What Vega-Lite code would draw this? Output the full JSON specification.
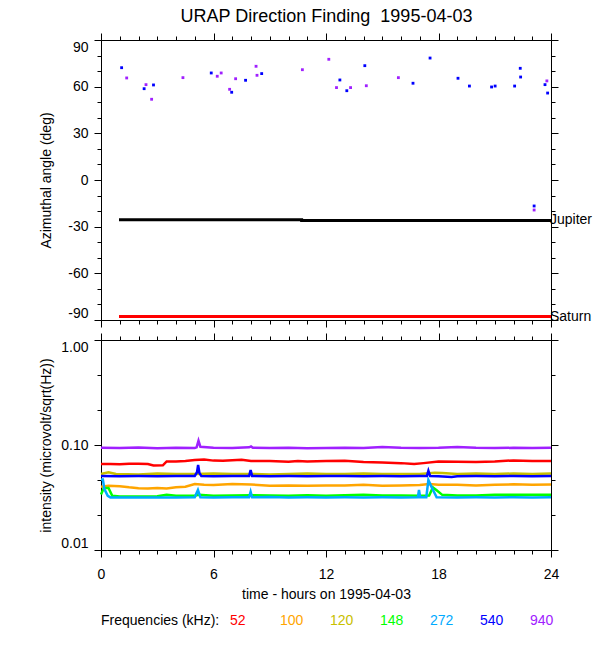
{
  "$schema": "https://vega.github.io/schema/vega-lite/v6.json",
  "title": {"text": "URAP Direction Finding \u00a01995-04-03", "fontSize": 18, "fontWeight": "normal", "font": "Liberation Sans", "color": "black", "anchor": "middle", "offset": 6, "dx": 11},
  "padding": {"left": 38, "top": 8, "right": 5, "bottom": 5},
  "background": "white",
  "bounds": "flush",
  "spacing": 20,
  "datasets": {
    "pts": [
      {"h": 1.1, "az": 72.2, "f": "540"}, {"h": 2.3, "az": 58.7, "f": "540"}, {"h": 2.8, "az": 61.1, "f": "540"},
      {"h": 5.88, "az": 68.8, "f": "540"}, {"h": 6.97, "az": 56.4, "f": "540"}, {"h": 7.71, "az": 64.1, "f": "540"},
      {"h": 8.57, "az": 68.4, "f": "540"}, {"h": 12.74, "az": 64.3, "f": "540"}, {"h": 13.11, "az": 57.4, "f": "540"},
      {"h": 14.07, "az": 73.5, "f": "540"}, {"h": 16.64, "az": 62.2, "f": "540"}, {"h": 17.55, "az": 78.4, "f": "540"},
      {"h": 19.04, "az": 65.4, "f": "540"}, {"h": 19.65, "az": 60.4, "f": "540"}, {"h": 20.83, "az": 59.8, "f": "540"},
      {"h": 21.02, "az": 60.4, "f": "540"}, {"h": 22.06, "az": 60.4, "f": "540"}, {"h": 22.36, "az": 71.8, "f": "540"},
      {"h": 22.38, "az": 66.2, "f": "540"}, {"h": 23.68, "az": 61.3, "f": "540"}, {"h": 23.82, "az": 55.9, "f": "540"},
      {"h": 23.1, "az": -16.7, "f": "540"},
      {"h": 1.37, "az": 65.6, "f": "940"}, {"h": 2.4, "az": 61.3, "f": "940"}, {"h": 2.7, "az": 51.9, "f": "940"},
      {"h": 4.37, "az": 65.8, "f": "940"}, {"h": 6.2, "az": 66.7, "f": "940"}, {"h": 6.41, "az": 68.8, "f": "940"},
      {"h": 7.18, "az": 65.1, "f": "940"}, {"h": 6.86, "az": 58.3, "f": "940"}, {"h": 8.27, "az": 73.1, "f": "940"},
      {"h": 8.32, "az": 67.3, "f": "940"}, {"h": 10.74, "az": 70.9, "f": "940"}, {"h": 12.15, "az": 77.6, "f": "940"},
      {"h": 12.56, "az": 59.4, "f": "940"}, {"h": 13.31, "az": 59.4, "f": "940"}, {"h": 14.15, "az": 60.6, "f": "940"},
      {"h": 15.86, "az": 65.8, "f": "940"}, {"h": 23.78, "az": 63.7, "f": "940"}, {"h": 23.1, "az": -19.3, "f": "940"}
    ],
    "planets": [
      {"planet": "Jupiter", "i": 1, "h": 0.96, "az": -25.5},
      {"planet": "Jupiter", "i": 2, "h": 10.7, "az": -25.5},
      {"planet": "Jupiter", "i": 3, "h": 10.7, "az": -26.1},
      {"planet": "Jupiter", "i": 4, "h": 24, "az": -26.1},
      {"planet": "Saturn", "i": 1, "h": 0.96, "az": -87.8},
      {"planet": "Saturn", "i": 2, "h": 24, "az": -87.8}
    ],
    "names": [
      {"name": "Jupiter", "h": 24, "az": -25.9},
      {"name": "Saturn", "h": 24, "az": -87.8}
    ],
    "ser": [
      {"f": "52", "h": 0, "v": 0.0659}, {"f": "52", "h": 0.5, "v": 0.066}, {"f": "52", "h": 1, "v": 0.0655}, {"f": "52", "h": 1.5, "v": 0.0662},
      {"f": "52", "h": 2, "v": 0.0664}, {"f": "52", "h": 2.5, "v": 0.066}, {"f": "52", "h": 2.8, "v": 0.0638}, {"f": "52", "h": 3.3, "v": 0.064},
      {"f": "52", "h": 3.5, "v": 0.0698}, {"f": "52", "h": 4, "v": 0.0695}, {"f": "52", "h": 4.5, "v": 0.0703}, {"f": "52", "h": 5, "v": 0.0718},
      {"f": "52", "h": 5.5, "v": 0.0728}, {"f": "52", "h": 6, "v": 0.071}, {"f": "52", "h": 6.5, "v": 0.0708}, {"f": "52", "h": 7, "v": 0.0715},
      {"f": "52", "h": 7.5, "v": 0.0725}, {"f": "52", "h": 8, "v": 0.0705}, {"f": "52", "h": 9, "v": 0.0703}, {"f": "52", "h": 10, "v": 0.0693},
      {"f": "52", "h": 10.5, "v": 0.0703}, {"f": "52", "h": 11, "v": 0.0698}, {"f": "52", "h": 12, "v": 0.0703}, {"f": "52", "h": 13, "v": 0.0707},
      {"f": "52", "h": 14, "v": 0.0688}, {"f": "52", "h": 15, "v": 0.068}, {"f": "52", "h": 16, "v": 0.0672}, {"f": "52", "h": 16.7, "v": 0.0659},
      {"f": "52", "h": 17.2, "v": 0.0672}, {"f": "52", "h": 18, "v": 0.0698}, {"f": "52", "h": 19, "v": 0.0693}, {"f": "52", "h": 20, "v": 0.069},
      {"f": "52", "h": 21, "v": 0.0698}, {"f": "52", "h": 22, "v": 0.0713}, {"f": "52", "h": 23, "v": 0.0703}, {"f": "52", "h": 24, "v": 0.0705},

      {"f": "100", "h": 0, "v": 0.04}, {"f": "100", "h": 0.4, "v": 0.041}, {"f": "100", "h": 1, "v": 0.0405}, {"f": "100", "h": 1.5, "v": 0.0395},
      {"f": "100", "h": 2, "v": 0.0388}, {"f": "100", "h": 2.5, "v": 0.0385}, {"f": "100", "h": 3, "v": 0.039}, {"f": "100", "h": 3.5, "v": 0.0386},
      {"f": "100", "h": 4, "v": 0.0395}, {"f": "100", "h": 4.5, "v": 0.04}, {"f": "100", "h": 5, "v": 0.0425}, {"f": "100", "h": 5.5, "v": 0.0418},
      {"f": "100", "h": 6, "v": 0.0415}, {"f": "100", "h": 7, "v": 0.0425}, {"f": "100", "h": 8, "v": 0.042}, {"f": "100", "h": 9, "v": 0.041},
      {"f": "100", "h": 10, "v": 0.0412}, {"f": "100", "h": 11, "v": 0.041}, {"f": "100", "h": 12, "v": 0.0412}, {"f": "100", "h": 13, "v": 0.0412},
      {"f": "100", "h": 14, "v": 0.0418}, {"f": "100", "h": 15, "v": 0.041}, {"f": "100", "h": 16, "v": 0.0412}, {"f": "100", "h": 17, "v": 0.0415},
      {"f": "100", "h": 17.5, "v": 0.0425}, {"f": "100", "h": 18, "v": 0.0418}, {"f": "100", "h": 19, "v": 0.0418}, {"f": "100", "h": 20, "v": 0.0412},
      {"f": "100", "h": 21, "v": 0.0418}, {"f": "100", "h": 22, "v": 0.0422}, {"f": "100", "h": 23, "v": 0.0418}, {"f": "100", "h": 24, "v": 0.042},

      {"f": "120", "h": 0, "v": 0.053}, {"f": "120", "h": 0.4, "v": 0.0549}, {"f": "120", "h": 0.8, "v": 0.053}, {"f": "120", "h": 2, "v": 0.0525},
      {"f": "120", "h": 3, "v": 0.0535}, {"f": "120", "h": 4, "v": 0.053}, {"f": "120", "h": 5, "v": 0.053}, {"f": "120", "h": 6, "v": 0.0535},
      {"f": "120", "h": 7, "v": 0.053}, {"f": "120", "h": 8, "v": 0.053}, {"f": "120", "h": 9, "v": 0.0525}, {"f": "120", "h": 10, "v": 0.053},
      {"f": "120", "h": 11, "v": 0.0535}, {"f": "120", "h": 12, "v": 0.053}, {"f": "120", "h": 13, "v": 0.053}, {"f": "120", "h": 14, "v": 0.0535},
      {"f": "120", "h": 15, "v": 0.053}, {"f": "120", "h": 16, "v": 0.053}, {"f": "120", "h": 17, "v": 0.053}, {"f": "120", "h": 17.8, "v": 0.0545},
      {"f": "120", "h": 18.2, "v": 0.054}, {"f": "120", "h": 19, "v": 0.053}, {"f": "120", "h": 20, "v": 0.0535}, {"f": "120", "h": 21, "v": 0.053},
      {"f": "120", "h": 22, "v": 0.0535}, {"f": "120", "h": 23, "v": 0.053}, {"f": "120", "h": 24, "v": 0.0535},

      {"f": "148", "h": 0, "v": 0.0337}, {"f": "148", "h": 0.15, "v": 0.0389}, {"f": "148", "h": 0.4, "v": 0.0389}, {"f": "148", "h": 0.6, "v": 0.0328},
      {"f": "148", "h": 1, "v": 0.0323}, {"f": "148", "h": 2, "v": 0.0323}, {"f": "148", "h": 3, "v": 0.0325}, {"f": "148", "h": 3.5, "v": 0.0335},
      {"f": "148", "h": 4, "v": 0.0328}, {"f": "148", "h": 5, "v": 0.0328}, {"f": "148", "h": 5.2, "v": 0.0335}, {"f": "148", "h": 6, "v": 0.0328},
      {"f": "148", "h": 7, "v": 0.033}, {"f": "148", "h": 8, "v": 0.0333}, {"f": "148", "h": 9, "v": 0.033}, {"f": "148", "h": 10, "v": 0.0328},
      {"f": "148", "h": 11, "v": 0.0333}, {"f": "148", "h": 12, "v": 0.0328}, {"f": "148", "h": 13, "v": 0.0333}, {"f": "148", "h": 14, "v": 0.0335},
      {"f": "148", "h": 15, "v": 0.033}, {"f": "148", "h": 16, "v": 0.033}, {"f": "148", "h": 17, "v": 0.0328}, {"f": "148", "h": 17.5, "v": 0.033},
      {"f": "148", "h": 17.7, "v": 0.0395}, {"f": "148", "h": 17.9, "v": 0.037}, {"f": "148", "h": 18.2, "v": 0.0335}, {"f": "148", "h": 19, "v": 0.033},
      {"f": "148", "h": 20, "v": 0.033}, {"f": "148", "h": 21, "v": 0.0335}, {"f": "148", "h": 22, "v": 0.0335}, {"f": "148", "h": 23, "v": 0.0335},
      {"f": "148", "h": 24, "v": 0.0335},

      {"f": "272", "h": 0, "v": 0.0468}, {"f": "272", "h": 0.1, "v": 0.0468}, {"f": "272", "h": 0.18, "v": 0.038}, {"f": "272", "h": 0.36, "v": 0.0328},
      {"f": "272", "h": 0.5, "v": 0.0317}, {"f": "272", "h": 1, "v": 0.0317}, {"f": "272", "h": 2, "v": 0.0317}, {"f": "272", "h": 3, "v": 0.0317},
      {"f": "272", "h": 4, "v": 0.0317}, {"f": "272", "h": 5, "v": 0.0318}, {"f": "272", "h": 5.17, "v": 0.0373}, {"f": "272", "h": 5.3, "v": 0.0318},
      {"f": "272", "h": 6, "v": 0.0317}, {"f": "272", "h": 7, "v": 0.0318}, {"f": "272", "h": 7.9, "v": 0.0318}, {"f": "272", "h": 7.98, "v": 0.0359},
      {"f": "272", "h": 8.06, "v": 0.0318}, {"f": "272", "h": 9, "v": 0.032}, {"f": "272", "h": 10, "v": 0.0317}, {"f": "272", "h": 11, "v": 0.0318},
      {"f": "272", "h": 12, "v": 0.0317}, {"f": "272", "h": 13, "v": 0.0318}, {"f": "272", "h": 14, "v": 0.0317}, {"f": "272", "h": 15, "v": 0.0318},
      {"f": "272", "h": 16, "v": 0.0317}, {"f": "272", "h": 16.9, "v": 0.0318}, {"f": "272", "h": 16.96, "v": 0.0373}, {"f": "272", "h": 17.02, "v": 0.0318},
      {"f": "272", "h": 17.35, "v": 0.0318}, {"f": "272", "h": 17.46, "v": 0.0464}, {"f": "272", "h": 17.64, "v": 0.0395}, {"f": "272", "h": 17.9, "v": 0.0318},
      {"f": "272", "h": 19, "v": 0.0317}, {"f": "272", "h": 20, "v": 0.0318}, {"f": "272", "h": 21, "v": 0.0317}, {"f": "272", "h": 22, "v": 0.0318},
      {"f": "272", "h": 23, "v": 0.0317}, {"f": "272", "h": 24, "v": 0.0318},

      {"f": "540", "h": 0, "v": 0.0507}, {"f": "540", "h": 1, "v": 0.0505}, {"f": "540", "h": 2, "v": 0.0507}, {"f": "540", "h": 3, "v": 0.0505},
      {"f": "540", "h": 4, "v": 0.0507}, {"f": "540", "h": 5, "v": 0.0507}, {"f": "540", "h": 5.12, "v": 0.055}, {"f": "540", "h": 5.18, "v": 0.0645},
      {"f": "540", "h": 5.25, "v": 0.054}, {"f": "540", "h": 5.35, "v": 0.0507}, {"f": "540", "h": 6, "v": 0.0505}, {"f": "540", "h": 7, "v": 0.0507},
      {"f": "540", "h": 7.9, "v": 0.0507}, {"f": "540", "h": 7.98, "v": 0.0578}, {"f": "540", "h": 8.06, "v": 0.0507}, {"f": "540", "h": 9, "v": 0.0505},
      {"f": "540", "h": 10, "v": 0.0507}, {"f": "540", "h": 11, "v": 0.0505}, {"f": "540", "h": 12, "v": 0.0507}, {"f": "540", "h": 13, "v": 0.0507},
      {"f": "540", "h": 14, "v": 0.0505}, {"f": "540", "h": 15, "v": 0.0507}, {"f": "540", "h": 16, "v": 0.0505}, {"f": "540", "h": 17, "v": 0.0507},
      {"f": "540", "h": 17.38, "v": 0.0507}, {"f": "540", "h": 17.46, "v": 0.0569}, {"f": "540", "h": 17.55, "v": 0.0507}, {"f": "540", "h": 18, "v": 0.0505},
      {"f": "540", "h": 18.7, "v": 0.0495}, {"f": "540", "h": 19, "v": 0.0505}, {"f": "540", "h": 20, "v": 0.0507}, {"f": "540", "h": 21, "v": 0.0505},
      {"f": "540", "h": 22, "v": 0.0507}, {"f": "540", "h": 23, "v": 0.0505}, {"f": "540", "h": 24, "v": 0.0507},

      {"f": "940", "h": 0, "v": 0.094}, {"f": "940", "h": 1, "v": 0.0935}, {"f": "940", "h": 2, "v": 0.0945}, {"f": "940", "h": 3, "v": 0.093},
      {"f": "940", "h": 4, "v": 0.094}, {"f": "940", "h": 5, "v": 0.0935}, {"f": "940", "h": 5.1, "v": 0.095}, {"f": "940", "h": 5.2, "v": 0.11},
      {"f": "940", "h": 5.3, "v": 0.096}, {"f": "940", "h": 6, "v": 0.094}, {"f": "940", "h": 7, "v": 0.0935}, {"f": "940", "h": 7.9, "v": 0.095},
      {"f": "940", "h": 8, "v": 0.097}, {"f": "940", "h": 8.1, "v": 0.094}, {"f": "940", "h": 9, "v": 0.0935}, {"f": "940", "h": 10, "v": 0.094},
      {"f": "940", "h": 11, "v": 0.093}, {"f": "940", "h": 12, "v": 0.0935}, {"f": "940", "h": 13, "v": 0.094}, {"f": "940", "h": 14, "v": 0.0935},
      {"f": "940", "h": 15, "v": 0.0955}, {"f": "940", "h": 16, "v": 0.094}, {"f": "940", "h": 17, "v": 0.0935}, {"f": "940", "h": 18, "v": 0.094},
      {"f": "940", "h": 19, "v": 0.0955}, {"f": "940", "h": 20, "v": 0.094}, {"f": "940", "h": 21, "v": 0.0935}, {"f": "940", "h": 22, "v": 0.094},
      {"f": "940", "h": 23, "v": 0.0935}, {"f": "940", "h": 24, "v": 0.094}
    ]
  },
  "vconcat": [
    {
      "width": 450,
      "height": 280,
      "layer": [
        {
          "data": {"name": "pts"},
          "mark": {"type": "square", "size": 8, "opacity": 1},
          "encoding": {
            "x": {"field": "h", "type": "quantitative", "scale": {"domain": [0, 24], "nice": false},
              "axis": {"orient": "bottom", "values": [0,1,2,3,4,5,6,7,8,9,10,11,12,13,14,15,16,17,18,19,20,21,22,23,24], "labels": false, "title": null,
                "tickSize": {"condition": {"test": "datum.value % 6 === 0", "value": 7}, "value": 4}}},
            "y": {"field": "az", "type": "quantitative", "scale": {"domain": [-90, 90], "nice": false, "zero": false},
              "axis": {"orient": "left", "values": [-90,-80,-70,-60,-50,-40,-30,-20,-10,0,10,20,30,40,50,60,70,80,90],
                "labelExpr": "datum.value % 30 === 0 ? '' + datum.value : ''", "labelFlush": true, "labelPadding": 6,
                "title": "Azimuthal angle (deg)", "titleX": -48,
                "tickSize": {"condition": {"test": "datum.value % 30 === 0", "value": 7}, "value": 4}}},
            "color": {"field": "f", "type": "nominal",
              "scale": {"domain": ["52", "100", "120", "148", "272", "540", "940"], "range": ["#ff0000", "#ffa500", "#c8c000", "#00ff00", "#00aaff", "#0000ff", "#a020ff"]},
              "legend": {"orient": "none", "legendX": 0, "legendY": 574, "direction": "horizontal", "columns": 7, "gridAlign": "all",
                "title": "Frequencies (kHz):", "titleOrient": "left", "titleFont": "Liberation Sans", "titleFontSize": 14, "titleFontWeight": "normal", "titleColor": "black", "titlePadding": 10,
                "labelFont": "Liberation Sans", "labelFontSize": 14, "labelOffset": -14, "columnPadding": 26,
                "symbolType": "circle", "symbolSize": 0, "symbolOpacity": 0, "symbolStrokeWidth": 0,
                "encode": {"labels": {"update": {"fill": {"scale": "color", "field": "value"}}}}}}
          }
        },
        {
          "data": {"name": "planets"},
          "transform": [{"filter": "datum.planet === 'Jupiter'"}],
          "mark": {"type": "line", "color": "black", "strokeWidth": 3},
          "encoding": {
            "x": {"field": "h", "type": "quantitative", "scale": {"domain": [0, 24], "nice": false},
              "axis": {"orient": "top", "values": [0,1,2,3,4,5,6,7,8,9,10,11,12,13,14,15,16,17,18,19,20,21,22,23,24], "labels": false, "title": null,
                "tickSize": {"condition": {"test": "datum.value % 6 === 0", "value": 7}, "value": 4}}},
            "y": {"field": "az", "type": "quantitative", "scale": {"domain": [-90, 90], "nice": false, "zero": false},
              "axis": {"orient": "right", "values": [-90,-80,-70,-60,-50,-40,-30,-20,-10,0,10,20,30,40,50,60,70,80,90], "labels": false, "title": null,
                "tickSize": {"condition": {"test": "datum.value % 30 === 0", "value": 7}, "value": 4}}},
            "order": {"field": "i"}
          }
        },
        {
          "data": {"name": "planets"},
          "transform": [{"filter": "datum.planet === 'Saturn'"}],
          "mark": {"type": "line", "color": "#ff0000", "strokeWidth": 3},
          "encoding": {
            "x": {"field": "h", "type": "quantitative", "scale": {"domain": [0, 24], "nice": false}, "axis": null},
            "y": {"field": "az", "type": "quantitative", "scale": {"domain": [-90, 90], "nice": false, "zero": false}, "axis": null},
            "order": {"field": "i"}
          }
        },
        {
          "data": {"name": "names"},
          "mark": {"type": "text", "align": "left", "baseline": "middle", "dx": -1, "font": "Liberation Sans", "fontSize": 14, "color": "black"},
          "encoding": {
            "x": {"field": "h", "type": "quantitative", "scale": {"domain": [0, 24], "nice": false}, "axis": null},
            "y": {"field": "az", "type": "quantitative", "scale": {"domain": [-90, 90], "nice": false, "zero": false}, "axis": null},
            "text": {"field": "name"}
          }
        }
      ],
      "resolve": {"scale": {"x": "independent", "y": "independent"}, "axis": {"x": "independent", "y": "independent"}}
    },
    {
      "width": 450,
      "height": 210,
      "layer": [
        {
          "data": {"name": "ser"},
          "mark": {"type": "line", "strokeWidth": 2.5},
          "encoding": {
            "x": {"field": "h", "type": "quantitative", "scale": {"domain": [0, 24], "nice": false},
              "axis": {"orient": "bottom", "values": [0,1,2,3,4,5,6,7,8,9,10,11,12,13,14,15,16,17,18,19,20,21,22,23,24],
                "labelExpr": "datum.value % 6 === 0 ? datum.label : ''", "labelPadding": 10, "labelFlush": false,
                "title": "time - hours on 1995-04-03", "titlePadding": 6,
                "tickSize": {"condition": {"test": "datum.value % 6 === 0", "value": 7}, "value": 4}}},
            "y": {"field": "v", "type": "quantitative", "scale": {"type": "log", "domain": [0.01, 1], "nice": false},
              "axis": {"orient": "left", "values": [0.01, 0.021544, 0.046416, 0.1, 0.21544, 0.46416, 1],
                "labelExpr": "(datum.value == 1 || datum.value == 0.1 || datum.value == 0.01) ? format(datum.value, '.2f') : ''",
                "labelFlush": true, "labelPadding": 6,
                "title": "intensity (microvolt/sqrt(Hz))", "titleX": -48,
                "tickSize": {"condition": {"test": "datum.value == 1 || datum.value == 0.1 || datum.value == 0.01", "value": 7}, "value": 4}}},
            "color": {"field": "f", "type": "nominal",
              "scale": {"domain": ["52", "100", "120", "148", "272", "540", "940"], "range": ["#ff0000", "#ffa500", "#c8c000", "#00ff00", "#00aaff", "#0000ff", "#a020ff"]},
              "legend": {"orient": "none", "legendX": 0, "legendY": 574, "direction": "horizontal", "columns": 7, "gridAlign": "all",
                "title": "Frequencies (kHz):", "titleOrient": "left", "titleFont": "Liberation Sans", "titleFontSize": 14, "titleFontWeight": "normal", "titleColor": "black", "titlePadding": 10,
                "labelFont": "Liberation Sans", "labelFontSize": 14, "labelOffset": -14, "columnPadding": 26,
                "symbolType": "circle", "symbolSize": 0, "symbolOpacity": 0, "symbolStrokeWidth": 0,
                "encode": {"labels": {"update": {"fill": {"scale": "color", "field": "value"}}}}}}
          }
        },
        {
          "data": {"name": "ser"},
          "mark": {"type": "line", "opacity": 0},
          "encoding": {
            "x": {"field": "h", "type": "quantitative", "scale": {"domain": [0, 24], "nice": false},
              "axis": {"orient": "top", "values": [0,1,2,3,4,5,6,7,8,9,10,11,12,13,14,15,16,17,18,19,20,21,22,23,24], "labels": false, "title": null,
                "tickSize": {"condition": {"test": "datum.value % 6 === 0", "value": 7}, "value": 4}}},
            "y": {"field": "v", "type": "quantitative", "scale": {"type": "log", "domain": [0.01, 1], "nice": false},
              "axis": {"orient": "right", "values": [0.01, 0.021544, 0.046416, 0.1, 0.21544, 0.46416, 1], "labels": false, "title": null,
                "tickSize": {"condition": {"test": "datum.value == 1 || datum.value == 0.1 || datum.value == 0.01", "value": 7}, "value": 4}}},
            "detail": {"field": "f"}
          }
        }
      ],
      "resolve": {"scale": {"x": "independent", "y": "independent"}, "axis": {"x": "independent", "y": "independent"}}
    }
  ],
  "resolve": {"scale": {"color": "shared"}, "legend": {"color": "shared"}},
  "config": {
    "view": {"stroke": "black", "strokeWidth": 1},
    "axis": {"domainColor": "black", "domainWidth": 1, "tickColor": "black", "tickWidth": 1, "grid": false,
      "labelColor": "black", "titleColor": "black", "labelFont": "Liberation Sans", "titleFont": "Liberation Sans",
      "labelFontSize": 14, "titleFontSize": 14, "titleFontWeight": "normal"},
    "text": {"font": "Liberation Sans"}
  }
}
